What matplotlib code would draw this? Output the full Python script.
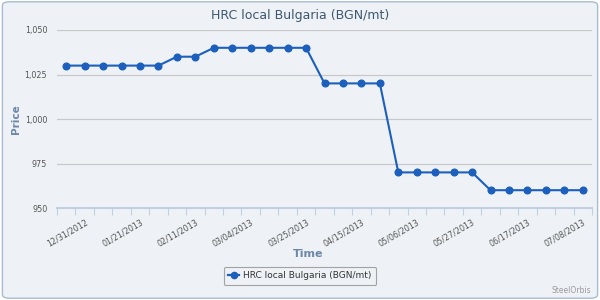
import matplotlib
matplotlib.use('Agg')
import matplotlib.pyplot as plt
from matplotlib.patches import FancyBboxPatch
from matplotlib.ticker import FuncFormatter
from matplotlib.lines import Line2D

# weekly quotes, BGN/mt
dates = ['12/24/2012', '12/31/2012', '01/07/2013', '01/14/2013', '01/21/2013',
         '01/28/2013', '02/04/2013', '02/11/2013', '02/18/2013', '02/25/2013',
         '03/04/2013', '03/11/2013', '03/18/2013', '03/25/2013', '04/01/2013',
         '04/08/2013', '04/15/2013', '04/22/2013', '04/29/2013', '05/06/2013',
         '05/13/2013', '05/20/2013', '05/27/2013', '06/03/2013', '06/10/2013',
         '06/17/2013', '06/24/2013', '07/01/2013', '07/08/2013']
prices = [1030, 1030, 1030, 1030, 1030, 1030, 1035, 1035,
          1040, 1040, 1040, 1040, 1040, 1040,
          1020, 1020, 1020, 1020,
          970, 970, 970, 970, 970,
          960, 960, 960, 960, 960, 960]
y_ticks = [950, 975, 1000, 1025, 1050]
label_idx = list(range(1, len(dates), 3))

line_col = '#1c5fbd'
bg = '#eef2f6'

fig = plt.figure(figsize=(6, 3), dpi=100)
fig.patch.set_facecolor('white')
frame = FancyBboxPatch((0.004, 0.006), 0.992, 0.988, boxstyle='round,pad=0,rounding_size=0.012',
                       transform=fig.transFigure, facecolor=bg, edgecolor='#a8bccf', lw=1.0,
                       zorder=-10)
fig.patches.append(frame)

ax = fig.add_axes([57 / 600, 1 - 208 / 300, 535 / 600, 178 / 300])
ax.set_facecolor('none')
x = list(range(len(dates)))
ax.plot(x, prices, color=line_col, lw=1.5, marker='o', ms=4.8, mec=line_col, mfc=line_col, zorder=3)

ax.set_xlim(-0.5, len(dates) - 0.5)
ax.set_ylim(950, 1050)
ax.set_yticks(y_ticks)
ax.yaxis.set_major_formatter(FuncFormatter(lambda v, p: '{:,.0f}'.format(v)))
ax.grid(axis='y', color='#c8c8c8', lw=0.9)
ax.tick_params(axis='y', length=0, labelsize=5.8, labelcolor='#555555', pad=7)

ax.set_xticks(label_idx)
ax.set_xticklabels([dates[i] for i in label_idx], rotation=30, ha='right',
                   rotation_mode='anchor', fontsize=5.8, color='#555555')
ax.tick_params(axis='x', length=0, pad=7)
ax.set_xticks([i - 0.5 for i in range(len(dates) + 1)], minor=True)
ax.tick_params(axis='x', which='minor', length=5, color='#c0d0e0', width=0.8)

for s in ['top', 'right', 'left']:
    ax.spines[s].set_visible(False)
ax.spines['bottom'].set_color('#c0d0e0')
ax.spines['bottom'].set_linewidth(1.5)

fig.text(0.5, 0.948, 'HRC local Bulgaria (BGN/mt)', ha='center', va='center',
         fontsize=9, color='#3e576f')
fig.text(0.027, 0.603, 'Price', rotation=90, ha='center', va='center',
         fontsize=7.5, color='#6d87a8', fontweight='bold')
fig.text(0.513, 0.152, 'Time', ha='center', va='center',
         fontsize=8, color='#6d87a8', fontweight='bold')
fig.text(0.985, 0.032, 'SteelOrbis', ha='right', va='center', fontsize=5.5, color='#999999')

leg = fig.legend(handles=[Line2D([], [], color=line_col, lw=1.6, marker='o', ms=4.5, label='HRC local Bulgaria (BGN/mt)')],
                 loc='center', bbox_to_anchor=(0.5, 0.08), fontsize=6.5, frameon=True,
                 handlelength=1.2, handletextpad=0.5, borderpad=0.5, fancybox=True)
leg.get_frame().set_edgecolor('#909090')
leg.get_frame().set_facecolor(bg)
leg.get_frame().set_linewidth(0.8)
for t in leg.get_texts():
    t.set_color('#333333')

fig.savefig('out.png', dpi=100, facecolor='white')
